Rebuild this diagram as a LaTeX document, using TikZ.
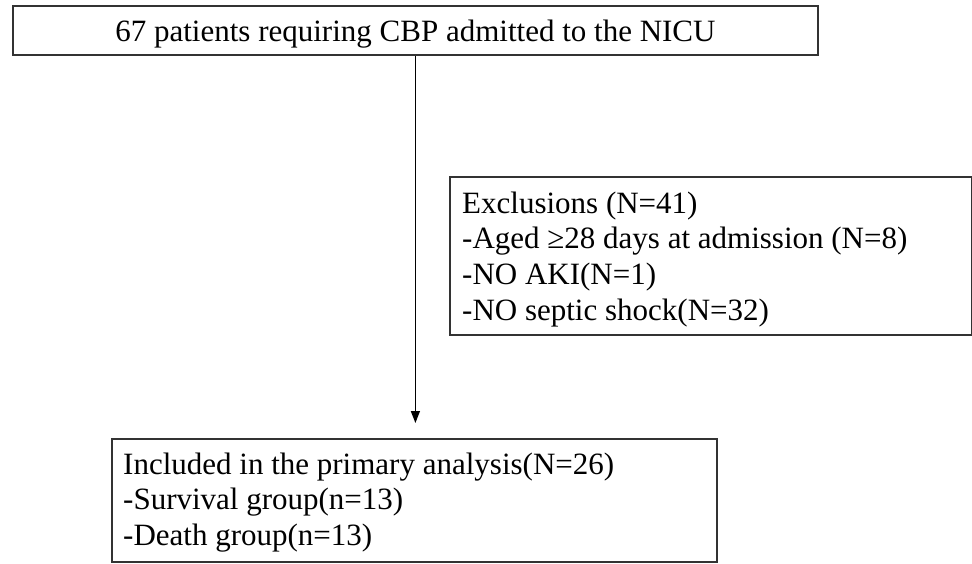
\documentclass[tikz,border=0pt]{standalone}
\usepackage{fontspec}
\setmainfont{Liberation Serif}
\usetikzlibrary{arrows.meta}

\begin{document}
\begin{tikzpicture}[x=1pt, y=-1pt,
    frame/.style ={draw=black!80, line width=1.8pt, inner sep=0pt},
    lines/.style ={anchor=north west, inner sep=0pt, text width=500pt, align=flush left,
                   font=\fontsize{31}{35.6}\selectfont}]
   \useasboundingbox (0,0) rectangle (972,564);
   \node[frame, minimum width=805pt, minimum height=49pt, text height=22pt, text depth=0pt,
         font=\fontsize{31}{35.6}\selectfont] (admitted) at (415.4,30.5)
         {67 patients requiring CBP admitted to the NICU};
   \node[frame, anchor=north west, minimum width=522pt, minimum height=158pt] (exclusions) at (449,176) {};
   \node[lines] (exclusions text) at (462,188.1)
         {\strut Exclusions (N=41)\\-Aged ≥28 days at admission (N=8)\\-NO AKI(N=1)\\-NO septic shock(N=32)};
   \node[frame, anchor=north west, minimum width=605pt, minimum height=123pt] (included) at (111,438) {};
   \node[lines] (included text) at (123,449.1)
         {\strut Included in the primary analysis(N=26)\\-Survival group(n=13)\\-Death group(n=13)};

   \draw[line width=1.4pt, -{Triangle[length=12pt, width=9pt]}, shorten >=15pt]
         (admitted.south) to (admitted.south |- included.north);
\end{tikzpicture}
\end{document}
